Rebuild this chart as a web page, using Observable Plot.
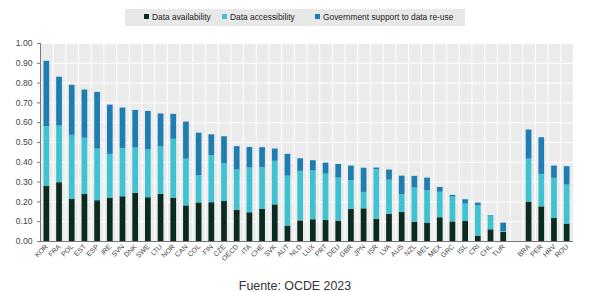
<!DOCTYPE html>
<html>
<head>
<meta charset="utf-8">
<script src="https://cdn.jsdelivr.net/npm/d3@7"></script>
<script src="https://cdn.jsdelivr.net/npm/@observablehq/plot@0.6"></script>
<style>
  html, body { margin: 0; padding: 0; background: #fff; }
  body { width: 601px; height: 292px; position: relative; font-family: "Liberation Sans", Arial, sans-serif; overflow: hidden; }
  #legendRow { height: 34px; position: relative; }
  #legendBox { position: absolute; left: 125px; top: 9px; width: 340px; height: 17px; background: #e8e8e8; }
  .item { position: absolute; top: 0; height: 17px; line-height: 17px; font-size: 8.4px; color: #222; white-space: nowrap; }
  .sw { display: inline-block; width: 5px; height: 5px; margin-right: 3px; vertical-align: 1px; }
  #chart svg { display: block; }
  #caption { position: absolute; left: 0; top: 276px; width: 590px; text-align: center; font-size: 12.4px; line-height: 20px; color: #333; }
</style>
</head>
<body>
<div id="legendRow"><div id="legendBox"></div></div>
<div id="chart"></div>
<div id="caption"></div>
<script>
// ---- data ----
const countries = ["KOR","FRA","POL","EST","ESP","IRE","SVN","DNK","SWE","LTU","NOR","CAN","COL","FIN","CZE","OECD","ITA","CHE","SVK","AUT","NLD","LUX","PRT","DEU","GBR","JPN","ISR","LVA","AUS","NZL","BEL","MEX","GRC","ISL","CRI","CHL","TUR"," ","BRA","PER","HRV","ROU"];
const availability  = [0.278,0.297,0.214,0.238,0.206,0.219,0.226,0.244,0.221,0.238,0.219,0.180,0.195,0.196,0.202,0.158,0.145,0.162,0.185,0.078,0.104,0.110,0.106,0.103,0.162,0.165,0.112,0.138,0.147,0.098,0.093,0.120,0.099,0.101,0.027,0.059,0.046,0,0.199,0.175,0.116,0.088];
const accessibility = [0.302,0.286,0.322,0.284,0.261,0.221,0.244,0.228,0.242,0.242,0.297,0.236,0.138,0.237,0.192,0.203,0.226,0.212,0.220,0.252,0.250,0.246,0.234,0.217,0.145,0.083,0.250,0.172,0.089,0.173,0.163,0.129,0.125,0.088,0.153,0.069,0.004,0,0.217,0.164,0.203,0.197];
const support       = [0.330,0.247,0.253,0.243,0.286,0.249,0.204,0.190,0.194,0.164,0.126,0.187,0.214,0.106,0.135,0.118,0.104,0.100,0.062,0.110,0.064,0.052,0.056,0.069,0.074,0.122,0.009,0.051,0.094,0.058,0.064,0.024,0.009,0.022,0.014,0.003,0.043,0,0.147,0.185,0.062,0.093];
const seriesNames = ["Data availability","Data accessibility","Government support to data re-use"];
const seriesColors = ["#0b2b20","#3fc3d2","#1f7eb1"];
const yTicks = [0,0.1,0.2,0.3,0.4,0.5,0.6,0.7,0.8,0.9,1.0];
const captionText = "Fuente: OCDE 2023";

// ---- legend ----
const legendOffsets = [19, 97, 190];
const box = document.getElementById("legendBox");
seriesNames.forEach((name, i) => {
  const it = document.createElement("div");
  it.className = "item";
  it.style.left = legendOffsets[i] + "px";
  it.innerHTML = `<span class="sw" style="background:${seriesColors[i]}"></span>${name}`;
  box.appendChild(it);
});
document.getElementById("caption").textContent = captionText;

// ---- long-form table ----
const rows = [];
countries.forEach((c, i) => {
  if (c.trim() === "") return;
  rows.push({country: c, series: seriesNames[0], value: availability[i]});
  rows.push({country: c, series: seriesNames[1], value: accessibility[i]});
  rows.push({country: c, series: seriesNames[2], value: support[i]});
});

const W = 601, mL = 40, mR = 28;
const step = (W - mL - mR) / countries.length;

const chart = Plot.plot({
  width: W,
  height: 238,
  marginTop: 9,
  marginBottom: 31,
  marginLeft: mL,
  marginRight: mR,
  style: {fontFamily: "'Liberation Sans', Arial, sans-serif", color: "#444", background: "#fff"},
  x: {domain: countries, paddingInner: 0.55, paddingOuter: 0.275, round: false, label: null},
  y: {domain: [0, 1], label: null},
  color: {domain: seriesNames, range: seriesColors},
  marks: [
    Plot.frame({fill: "#ebebeb", stroke: null}),
    Plot.gridY(yTicks, {stroke: "#fff", strokeOpacity: 1, strokeWidth: 1}),
    Plot.ruleX(countries, {x: d => d, dx: step / 2, stroke: "#fff", strokeOpacity: 1, strokeWidth: 1}),
    Plot.barY(rows, {x: "country", y: "value", fill: "series", order: seriesNames}),
    Plot.axisY(yTicks, {tickFormat: d3.format(".2f"), tickSize: 3, tickPadding: 5, fontSize: 8.6, stroke: "#777"}),
    Plot.axisX({tickSize: 0, tickPadding: 4, tickRotate: -45, fontSize: 7, fill: "#444"}),
    Plot.ruleY([0], {stroke: "#777", strokeWidth: 1}),
    Plot.frame({anchor: "left", stroke: "#777"})
  ]
});
document.getElementById("chart").appendChild(chart);
</script>
</body>
</html>
